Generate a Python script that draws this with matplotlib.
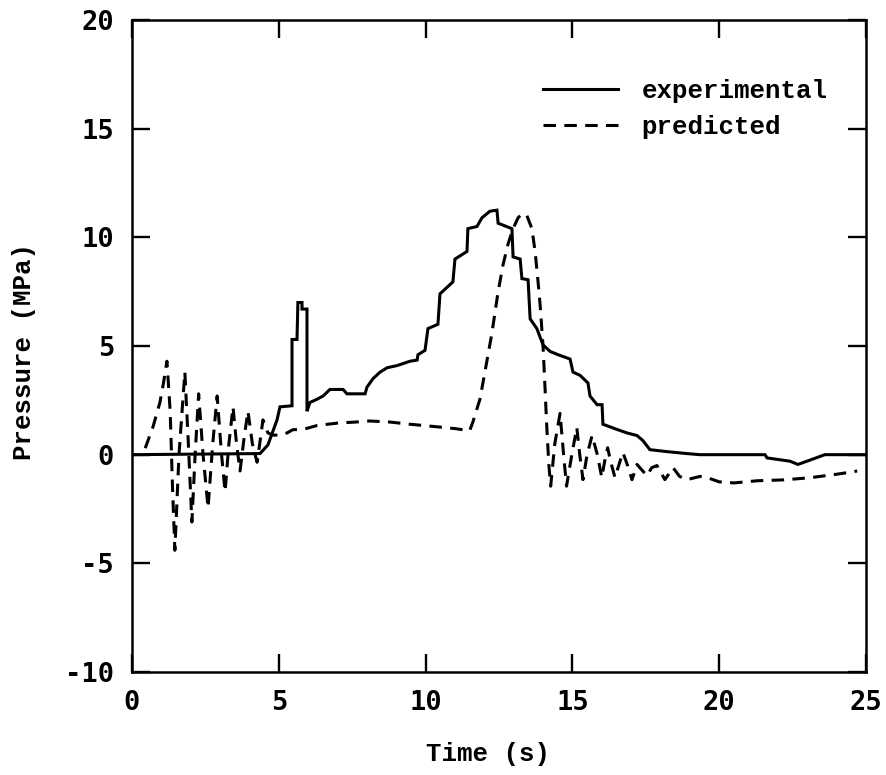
import matplotlib
matplotlib.use("Agg")
import matplotlib.pyplot as plt

plt.rcParams['lines.scale_dashes'] = False
plt.rcParams['axes.unicode_minus'] = False

# Experimental (solid) series
exp_time = [0, 4.36, 4.63, 4.94, 5.04, 5.45, 5.45, 5.62, 5.65, 5.79, 5.79, 5.96, 5.96,
            6.06, 6.30, 6.51, 6.74, 7.19, 7.32, 7.94, 8.00, 8.21, 8.45, 8.69, 9.03,
            9.47, 9.71, 9.74, 9.98, 10.08, 10.42, 10.49, 10.73, 10.93, 11.0, 11.41,
            11.44, 11.75, 11.92, 12.19, 12.43, 12.47, 12.94, 12.98, 13.22, 13.28,
            13.49, 13.56, 13.79, 14.0, 14.24, 14.51, 14.92, 15.02, 15.26, 15.53,
            15.6, 15.84, 16.01, 16.04, 16.52, 16.86, 17.2, 17.4, 17.64, 18.22, 18.9,
            19.34, 21.56, 21.63, 22.41, 22.68, 22.99, 23.6, 25.0]
exp_pressure = [0, 0.05, 0.45, 1.6, 2.2, 2.25, 5.3, 5.3, 7.0, 7.0, 6.7, 6.7, 2.0,
                2.4, 2.55, 2.7, 3.0, 3.0, 2.8, 2.8, 3.1, 3.5, 3.8, 4.0, 4.1,
                4.3, 4.35, 4.6, 4.8, 5.8, 6.0, 7.4, 7.7, 7.95, 9.0, 9.35,
                10.4, 10.5, 10.9, 11.2, 11.25, 10.65, 10.4, 9.1, 9.0, 8.1,
                8.05, 6.25, 5.8, 5.05, 4.75, 4.6, 4.4, 3.8, 3.65, 3.3,
                2.7, 2.3, 2.3, 1.4, 1.16, 1.0, 0.88, 0.65, 0.23, 0.14, 0.05,
                0.0, 0.0, -0.15, -0.3, -0.45, -0.3, 0.0, 0.0]

# Predicted (dashed) series
pred_time = [0.45, 0.72, 0.95, 1.06, 1.19, 1.3, 1.38, 1.46, 1.6, 1.8, 1.92, 2.04, 2.15,
             2.27, 2.42, 2.59, 2.75, 2.9, 3.05, 3.17, 3.3, 3.44, 3.56, 3.68, 3.82,
             3.95, 4.1, 4.26, 4.36, 4.46, 4.63, 4.8, 5.04, 5.28, 5.48, 5.82, 6.3,
             6.98, 7.6, 8.1, 8.79, 9.47, 10.25, 11.0, 11.5, 11.61, 11.85, 12.02,
             12.26, 12.47, 12.64, 12.81, 12.98, 13.15, 13.3, 13.45, 13.62, 13.73,
             13.83, 13.9, 14.0, 14.07, 14.13, 14.2, 14.26, 14.4, 14.58, 14.7, 14.8,
             14.98, 15.15, 15.25, 15.36, 15.5, 15.67, 15.85, 16.0, 16.1, 16.2, 16.3,
             16.45, 16.6, 16.72, 16.88, 17.03, 17.2, 17.54, 17.7, 17.88, 18.15,
             18.43, 18.65, 18.9, 19.35, 19.6, 20.0, 20.5, 21.3, 22.2, 23.1, 24.0,
             24.5, 24.7]
pred_pressure = [0.3, 1.3, 2.4, 3.2, 4.3, 2.0, -1.5, -4.4, 0.0, 3.8, 0.5, -3.1, 0.0,
                 2.8, 0.0, -2.45, 0.5, 2.7, 0.0, -1.7, 0.5, 2.2, 0.5, -0.75, 0.8,
                 2.0, 0.5, -0.35, 0.6, 1.6, 1.0, 0.9, 0.9, 1.0, 1.15, 1.16, 1.34,
                 1.45, 1.5, 1.55, 1.5, 1.4, 1.3, 1.2, 1.1, 1.5, 2.55, 3.8,
                 5.6, 7.5, 8.75, 9.7, 10.4, 10.9, 11.1, 11.0, 10.4, 9.35,
                 7.96, 6.9, 5.0, 3.0, 1.2, -0.5, -1.45, 0.5, 1.9, 0.0, -1.45,
                 0.0, 1.25, 0.0, -1.15, 0.0, 0.88, 0.0, -1.05, -0.3, 0.32, -0.3,
                 -1.05, -0.4, 0.1, -0.5, -1.15, -0.45, -0.97, -0.6, -0.5, -1.15,
                 -0.6, -1.0, -1.15, -1.0, -1.06, -1.25, -1.3, -1.2, -1.16, -1.06, -0.9,
                 -0.8, -0.75]

x_ticks = [0, 5, 10, 15, 20, 25]
y_ticks = [-10, -5, 0, 5, 10, 15, 20]

label_font = {'family': ['Liberation Mono', 'DejaVu Sans Mono'], 'weight': 'bold',
              'size': 18.5}

fig = plt.figure(figsize=(8.86, 7.75), dpi=100)
ax = fig.add_axes([132 / 886, 1 - 672 / 775, (866 - 132) / 886, (672 - 20) / 775])

ax.plot(exp_time, exp_pressure, color='black', lw=2.2, solid_joinstyle='miter',
        label='experimental')
ax.plot(pred_time, pred_pressure, color='black', lw=2.2, linestyle=(0, (9, 6)),
        label='predicted')

ax.set_xlim(0, 25)
ax.set_ylim(-10, 20)
ax.set_xticks(x_ticks)
ax.set_yticks(y_ticks)
ax.tick_params(direction='in', length=13, width=1.7, top=True, right=True,
               labelsize=19.5, pad=13)
for lab in ax.get_xticklabels() + ax.get_yticklabels():
    lab.set_family('DejaVu Sans Mono')
    lab.set_weight('bold')
for sp in ax.spines.values():
    sp.set_linewidth(1.8)

ax.set_xlabel('Time (s)', fontdict=label_font)
ax.set_ylabel('Pressure (MPa)', fontdict=label_font)
ax.xaxis.set_label_coords((488 - 132) / 734, (672 - 742) / 652)
ax.yaxis.set_label_coords((36 - 132) / 734, (672 - 352) / 652)

leg = ax.legend(loc='center left', bbox_to_anchor=((543 - 132) / 734, (672 - 109) / 652),
                frameon=False, handlelength=2.9, borderpad=0, borderaxespad=0,
                prop={'family': ['Liberation Mono', 'DejaVu Sans Mono'],
                      'weight': 'bold', 'size': 18.5},
                labelspacing=0.45, handletextpad=0.93)

fig.savefig('out.png', dpi=100)
